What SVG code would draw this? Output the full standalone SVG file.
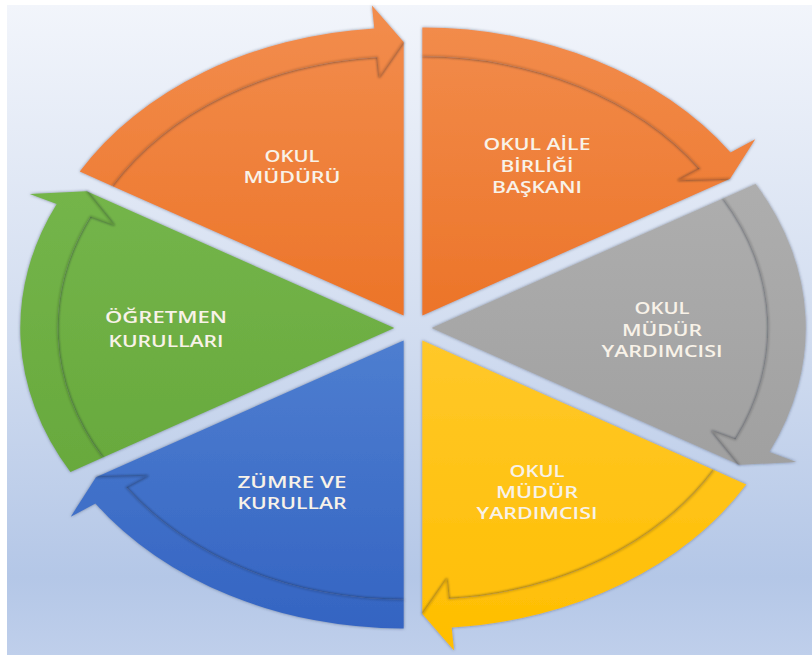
<svg xmlns="http://www.w3.org/2000/svg" width="812" height="655" viewBox="0 0 812 655">
  <defs>
    <linearGradient id="bg" x1="0" y1="0" x2="0" y2="1">
      <stop offset="0" stop-color="#F2F5FB"/>
      <stop offset="0.5" stop-color="#D2DDF0"/>
      <stop offset="0.88" stop-color="#B4C7E7"/>
      <stop offset="1" stop-color="#BFCFEB"/>
    </linearGradient>
    <linearGradient id="gOrange" gradientUnits="userSpaceOnUse" x1="0" y1="20" x2="0" y2="320">
      <stop offset="0" stop-color="#F28C4C"/>
      <stop offset="1" stop-color="#EC7428"/>
    </linearGradient>
    <linearGradient id="gGray" gradientUnits="userSpaceOnUse" x1="0" y1="180" x2="0" y2="470">
      <stop offset="0" stop-color="#AEAEAE"/>
      <stop offset="1" stop-color="#A0A0A0"/>
    </linearGradient>
    <linearGradient id="gYellow" gradientUnits="userSpaceOnUse" x1="0" y1="340" x2="0" y2="650">
      <stop offset="0" stop-color="#FFC82A"/>
      <stop offset="1" stop-color="#FFBE00"/>
    </linearGradient>
    <linearGradient id="gBlue" gradientUnits="userSpaceOnUse" x1="0" y1="340" x2="0" y2="630">
      <stop offset="0" stop-color="#4E7ED0"/>
      <stop offset="1" stop-color="#3464C2"/>
    </linearGradient>
    <linearGradient id="gGreen" gradientUnits="userSpaceOnUse" x1="0" y1="190" x2="0" y2="475">
      <stop offset="0" stop-color="#74B54A"/>
      <stop offset="1" stop-color="#68A93D"/>
    </linearGradient>
    <filter id="sh" x="-10%" y="-10%" width="120%" height="120%">
      <feGaussianBlur in="SourceAlpha" stdDeviation="1.6" result="b"/>
      <feFlood flood-color="#2A3550" flood-opacity="0.55"/>
      <feComposite in2="b" operator="in"/>
      <feMerge>
        <feMergeNode/>
        <feMergeNode in="SourceGraphic"/>
      </feMerge>
    </filter>
    <filter id="soft" x="-5%" y="-5%" width="110%" height="110%">
      <feGaussianBlur stdDeviation="0.8"/>
    </filter>
    <style>
      .lbl { font-family: "Open Sans", "Liberation Sans", sans-serif; font-weight: 600; font-size: 16.5px; fill: #F8F2E8; text-anchor: middle; }
      .shape { filter: url(#sh); }
      .edge { fill: none; stroke: #000; stroke-opacity: 0.2; stroke-width: 2; stroke-linejoin: round; filter: url(#soft); }
    </style>
  </defs>

  <rect x="0" y="0" width="812" height="655" fill="#FFFFFF"/>
  <rect x="7" y="5" width="805" height="650" fill="url(#bg)"/>

  <g id="node-okul-muduru">
    <path class="shape" fill="url(#gOrange)" d="M403.65,315.53 L112.15,185.93 A336.6,259.2 0 0 1 377.24,57.13 L403.65,41.93 Z"/>
    <text class="lbl" x="292" y="162" textLength="55" lengthAdjust="spacingAndGlyphs">OKUL</text>
    <text class="lbl" x="292" y="183" textLength="97" lengthAdjust="spacingAndGlyphs">MÜDÜRÜ</text>
  </g>

  <g id="node-okul-aile-birligi-baskani">
    <path class="shape" fill="url(#gOrange)" d="M422.35,315.53 L422.35,56.33 A336.6,259.2 0 0 1 699.75,168.72 L730.05,178.73 Z"/>
    <text class="lbl" x="537" y="150" textLength="107" lengthAdjust="spacingAndGlyphs">OKUL AİLE</text>
    <text class="lbl" x="537" y="172" textLength="73" lengthAdjust="spacingAndGlyphs">BİRLİĞİ</text>
    <text class="lbl" x="537" y="193" textLength="90" lengthAdjust="spacingAndGlyphs">BAŞKANI</text>
  </g>

  <g id="node-okul-mudur-yardimcisi-1">
    <path class="shape" fill="url(#gGray)" d="M431.7,328 L723.2,198.4 A336.6,259.2 0 0 1 735.51,439.59 L739.4,464.8 Z"/>
    <text class="lbl" x="662" y="314" textLength="55" lengthAdjust="spacingAndGlyphs">OKUL</text>
    <text class="lbl" x="662" y="335.5" textLength="80" lengthAdjust="spacingAndGlyphs">MÜDÜR</text>
    <text class="lbl" x="662" y="357" textLength="121" lengthAdjust="spacingAndGlyphs">YARDIMCISI</text>
  </g>

  <g id="node-okul-mudur-yardimcisi-2">
    <path class="shape" fill="url(#gYellow)" d="M422.35,340.47 L713.85,470.07 A336.6,259.2 0 0 1 448.76,598.87 L422.35,614.07 Z"/>
    <text class="lbl" x="537" y="477" textLength="55" lengthAdjust="spacingAndGlyphs">OKUL</text>
    <text class="lbl" x="537" y="498" textLength="82" lengthAdjust="spacingAndGlyphs">MÜDÜR</text>
    <text class="lbl" x="537" y="519" textLength="121" lengthAdjust="spacingAndGlyphs">YARDIMCISI</text>
  </g>

  <g id="node-zumre-ve-kurullar">
    <path class="shape" fill="url(#gBlue)" d="M403.65,340.47 L403.65,599.67 A336.6,259.2 0 0 1 126.25,487.28 L95.95,477.27 Z"/>
    <text class="lbl" x="292" y="488" textLength="109" lengthAdjust="spacingAndGlyphs">ZÜMRE VE</text>
    <text class="lbl" x="292" y="509" textLength="109" lengthAdjust="spacingAndGlyphs">KURULLAR</text>
  </g>

  <g id="node-ogretmen-kurullari">
    <path class="shape" fill="url(#gGreen)" d="M394.3,328 L102.8,457.6 A336.6,259.2 0 0 1 90.49,216.41 L86.6,191.2 Z"/>
    <text class="lbl" x="166" y="323" textLength="122" lengthAdjust="spacingAndGlyphs">ÖĞRETMEN</text>
    <text class="lbl" x="166" y="347" textLength="115" lengthAdjust="spacingAndGlyphs">KURULLARI</text>
  </g>

  <g id="connectors">
    <path class="shape" fill="url(#gOrange)" d="M112.15,185.93 L79.77,171.53 A374,288 0 0 1 374.31,28.42 L371.96,5.45 L403.65,41.93 L379.29,77.23 L377.24,57.13 A336.6,259.2 0 0 0 112.15,185.93 Z"/>
    <path class="shape" fill="url(#gOrange)" d="M422.35,56.33 L422.35,27.53 A374,288 0 0 1 730.57,152.4 L755.23,139.35 L730.05,178.73 L678.18,180.13 L699.75,168.72 A336.6,259.2 0 0 0 422.35,56.33 Z"/>
    <path class="shape" fill="url(#gGray)" d="M723.2,198.4 L755.58,184 A374,288 0 0 1 769.27,451.99 L796.28,461.91 L739.4,464.8 L711.87,430.91 L735.51,439.59 A336.6,259.2 0 0 0 723.2,198.4 Z"/>
    <path class="shape" fill="url(#gYellow)" d="M713.85,470.07 L746.23,484.47 A374,288 0 0 1 451.69,627.58 L454.04,650.55 L422.35,614.07 L446.71,578.77 L448.76,598.87 A336.6,259.2 0 0 0 713.85,470.07 Z"/>
    <path class="shape" fill="url(#gBlue)" d="M403.65,599.67 L403.65,628.47 A374,288 0 0 1 95.43,503.6 L70.77,516.65 L95.95,477.27 L147.82,475.87 L126.25,487.28 A336.6,259.2 0 0 0 403.65,599.67 Z"/>
    <path class="shape" fill="url(#gGreen)" d="M102.8,457.6 L70.42,472 A374,288 0 0 1 56.73,204.01 L29.72,194.09 L86.6,191.2 L114.12,225.09 L90.49,216.41 A336.6,259.2 0 0 0 102.8,457.6 Z"/>
    <path class="edge" d="M112.15,185.93 A336.6,259.2 0 0 1 377.24,57.13 L379.29,77.23 L403.65,41.93"/>
    <path class="edge" d="M422.35,56.33 A336.6,259.2 0 0 1 699.75,168.72 L678.18,180.13 L730.05,178.73"/>
    <path class="edge" d="M723.2,198.4 A336.6,259.2 0 0 1 735.51,439.59 L711.87,430.91 L739.4,464.8"/>
    <path class="edge" d="M713.85,470.07 A336.6,259.2 0 0 1 448.76,598.87 L446.71,578.77 L422.35,614.07"/>
    <path class="edge" d="M403.65,599.67 A336.6,259.2 0 0 1 126.25,487.28 L147.82,475.87 L95.95,477.27"/>
    <path class="edge" d="M102.8,457.6 A336.6,259.2 0 0 1 90.49,216.41 L114.12,225.09 L86.6,191.2"/>
  </g>
</svg>
